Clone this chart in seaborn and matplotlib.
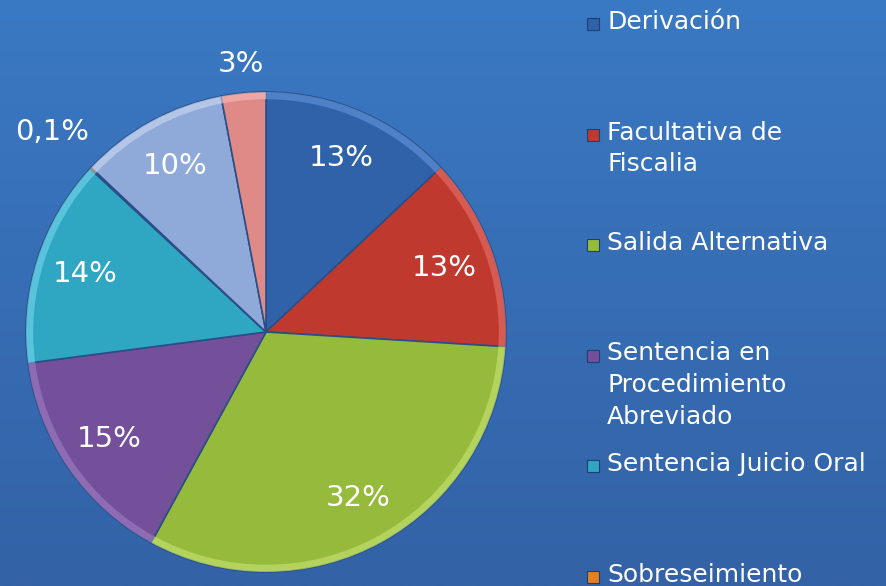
import numpy as np
import matplotlib
matplotlib.use("Agg")
import matplotlib.pyplot as plt
import seaborn as sns

# datos del grafico (orden horario desde las 12)
categorias = ["Derivación", "Facultativa de\nFiscalia", "Salida Alternativa",
              "Sentencia en\nProcedimiento\nAbreviado", "Sentencia Juicio Oral",
              "Sobreseimiento", "Otro 1", "Otro 2"]
valores = [13, 13, 32, 15, 14, 0.1, 10, 3]
colores = ["#2f62a8", "#c0392f", "#96bb3c", "#74509a", "#2fa6c2",
           "#e5801f", "#8fa9d8", "#e08a88"]
bordes = ["#5d8fd6", "#e06a62", "#c2de6a", "#9a78c0", "#6cd0e6",
          "#f5a860", "#c3d3f0", "#f3b6b4"]
leyenda_visible = 6

sns.set_style("white")
plt.rcParams["font.family"] = ["DejaVu Sans"]

fig = plt.figure(figsize=(8.86, 5.86), dpi=100)

# fondo degradado azul
bg = fig.add_axes([0, 0, 1, 1])
grad = np.linspace(0, 1, 256).reshape(-1, 1)
cmap = matplotlib.colors.LinearSegmentedColormap.from_list("bg", ["#3a79c3", "#3362a6"])
bg.imshow(grad, aspect="auto", cmap=cmap, extent=[0, 1, 0, 1], origin="upper")
bg.set_axis_off()

W, H = 886, 586
cx, cy, r = 266, 332, 240
ax = fig.add_axes([(cx - r) / W, (H - cy - r) / H, 2 * r / W, 2 * r / H])
wedges, _ = ax.pie(valores, colors=colores, startangle=90, counterclock=False,
                   wedgeprops=dict(linewidth=1.2, edgecolor="#2a4f88"))
for w, b in zip(wedges, bordes):
    # borde claro en el arco para simular el bisel
    ax.add_patch(matplotlib.patches.Wedge((0, 0), 1.0, w.theta1, w.theta2, width=0.03,
                                          facecolor=b, edgecolor="none", alpha=0.7))
ax.set_xlim(-1, 1)
ax.set_ylim(-1, 1)
ax.set_aspect("equal")
ax.set_axis_off()

for w, v in zip(wedges, valores):
    ang = np.deg2rad((w.theta1 + w.theta2) / 2)
    if v < 1:
        txt, d = f"{v:.1f}%".replace(".", ","), 1.22
    elif v < 5:
        txt, d = f"{v:.0f}%", 1.12
    else:
        txt, d = f"{v:.0f}%", 0.79
    ax.text(d * np.cos(ang), d * np.sin(ang), txt, ha="center", va="center",
            color="white", fontsize=21, clip_on=False)

# leyenda manual (cortada como en el original)
for i in range(leyenda_visible):
    ytop = 22 + i * 110.5
    fig.patches.append(matplotlib.patches.Rectangle(
        (587 / W, 1 - (ytop + 8) / H), 12 / W, 12 / H, transform=fig.transFigure,
        facecolor=colores[i], edgecolor="#1f3f70", linewidth=0.8))
    fig.text(607 / W, 1 - (ytop - 12) / H, categorias[i], ha="left", va="top",
             color="white", fontsize=18, linespacing=1.42)

fig.savefig("out.png", dpi=100)
